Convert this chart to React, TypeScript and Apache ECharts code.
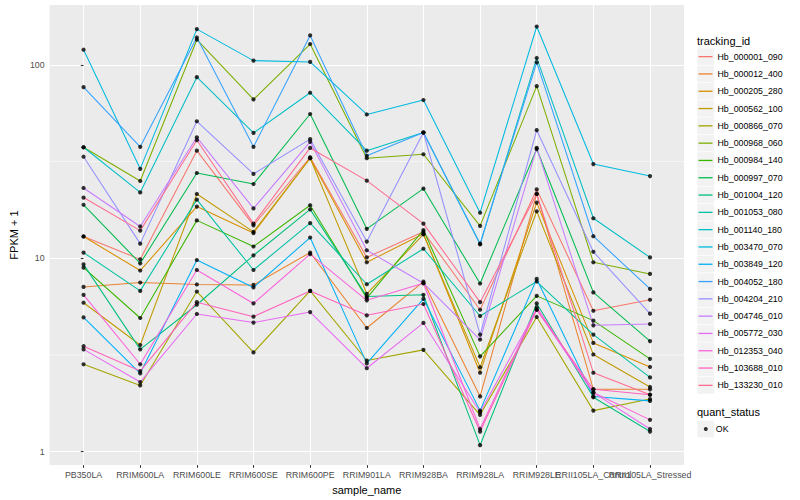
import React, { useEffect, useRef } from 'react';
import * as echarts from 'echarts';

const categories = ['PB350LA', 'RRIM600LA', 'RRIM600LE', 'RRIM600SE', 'RRIM600PE', 'RRIM901LA', 'RRIM928BA', 'RRIM928LA', 'RRIM928LE', 'RRII105LA_Control', 'RRII105LA_Stressed'];

const trackingIds = ['Hb_000001_090', 'Hb_000012_400', 'Hb_000205_280', 'Hb_000562_100', 'Hb_000866_070', 'Hb_000968_060', 'Hb_000984_140', 'Hb_000997_070', 'Hb_001004_120', 'Hb_001053_080', 'Hb_001140_180', 'Hb_003470_070', 'Hb_003849_120', 'Hb_004052_180', 'Hb_004204_210', 'Hb_004746_010', 'Hb_005772_030', 'Hb_012353_040', 'Hb_103688_010', 'Hb_133230_010'];

const hueColors = ['#F8766D', '#EA8331', '#D89000', '#C09B00', '#A3A500', '#7CAE00', '#39B600', '#00BB4E', '#00BF7D', '#00C1A3', '#00BFC4', '#00BAE0', '#00B0F6', '#35A2FF', '#9590FF', '#C77CFF', '#E76BF3', '#FA62DB', '#FF62BC', '#FF6C91'];

// FPKM + 1 per sample, in category order
const hb000001_090 = [12.96, 9.87, 36.0, 14.8, 33.3, 10.1, 13.7, 5.42, 22.7, 5.35, 6.10];
const hb000012_400 = [7.11, 7.49, 7.32, 7.28, 10.7, 4.36, 7.58, 1.93, 21.5, 2.10, 2.10];
const hb000205_280 = [12.96, 8.64, 18.5, 13.5, 32.9, 9.53, 13.4, 2.56, 19.4, 3.65, 2.74];
const hb000562_100 = [5.89, 3.56, 21.5, 13.7, 32.9, 6.55, 13.3, 2.73, 17.5, 3.18, 2.16];
const hb000866_070 = [2.83, 2.20, 6.73, 3.26, 6.78, 2.96, 3.36, 1.55, 4.97, 1.63, 1.87];
const hb000968_060 = [37.5, 25.1, 134.9, 66.3, 128.2, 32.9, 34.5, 14.7, 77.6, 9.53, 8.30];
const hb000984_140 = [8.95, 4.91, 15.7, 11.5, 18.8, 6.22, 14.0, 3.11, 6.39, 4.76, 3.02];
const hb000997_070 = [18.9, 9.41, 27.6, 24.2, 55.7, 14.2, 22.9, 7.40, 36.7, 6.66, 3.73];
const hb001004_120 = [9.30, 3.38, 5.75, 10.35, 17.9, 6.35, 6.47, 1.08, 5.84, 1.91, 1.27];
const hb001053_080 = [10.7, 6.78, 20.1, 8.70, 15.2, 7.34, 11.2, 5.03, 7.58, 4.03, 2.42];
const hb001140_180 = [37.5, 21.9, 86.4, 44.5, 71.8, 36.0, 44.7, 11.8, 108.6, 16.1, 10.1];
const hb003470_070 = [119.8, 29.0, 153.1, 105.2, 103.6, 55.4, 65.8, 17.2, 157.9, 30.7, 26.6];
const hb003849_120 = [4.95, 2.54, 9.79, 7.06, 12.8, 2.86, 6.17, 1.63, 7.82, 1.93, 1.83];
const hb004052_180 = [76.7, 37.7, 138.6, 37.7, 142.0, 33.9, 44.7, 11.9, 103.1, 13.0, 6.95];
const hb004204_210 = [33.5, 11.9, 51.1, 27.3, 41.3, 12.2, 44.7, 4.03, 45.96, 10.8, 5.17];
const hb004746_010 = [23.1, 14.6, 42.2, 18.1, 40.0, 11.0, 7.43, 3.80, 37.2, 4.50, 4.57];
const hb005772_030 = [3.38, 2.29, 5.15, 4.65, 5.27, 2.70, 4.63, 1.60, 5.42, 2.02, 1.31];
const hb012353_040 = [6.47, 2.83, 8.70, 5.84, 10.5, 6.06, 7.43, 1.31, 5.57, 2.02, 1.46];
const hb103688_010 = [3.51, 2.61, 5.93, 4.99, 6.78, 5.07, 5.80, 1.27, 5.42, 2.10, 1.97];
const hb133230_010 = [20.6, 13.9, 40.8, 15.1, 37.2, 25.2, 15.1, 5.93, 21.5, 2.56, 1.97];

const seriesValues = [hb000001_090, hb000012_400, hb000205_280, hb000562_100, hb000866_070, hb000968_060, hb000984_140, hb000997_070, hb001004_120, hb001053_080, hb001140_180, hb003470_070, hb003849_120, hb004052_180, hb004204_210, hb004746_010, hb005772_030, hb012353_040, hb103688_010, hb133230_010];

const yTicks = [1, 10, 100];
const yMinorBreaks = [3.1623, 31.623];
const xTicks = categories.map((_, i) => i);
// labels split over two axes so that the overlapping pair both stay visible
const xLabelsMain = xTicks.filter((i) => i !== 9);
const xLabelsAlt = [9];

const FONT = '"Liberation Sans", Arial, Helvetica, sans-serif';
const Y_MIN = 0.852;
const Y_MAX = 204;
const X_MIN = -0.6;
const X_MAX = 10.6;

export default function App() {
  const ref = useRef<HTMLDivElement>(null);
  useEffect(() => {
    if (!ref.current) return;
    const chart = echarts.init(ref.current, null, { renderer: 'svg' });

    const lineSeries = trackingIds.map((id, k) => ({
      type: 'line',
      name: id,
      data: seriesValues[k].map((v, i) => [i, v]),
      symbol: 'none',
      color: hueColors[k],
      lineStyle: { width: 1.05, color: hueColors[k] },
      z: 3,
      silent: true,
    }));

    const minorGridSeries = yMinorBreaks.map((b, k) => ({
      type: 'line',
      name: 'minor-grid-' + k,
      data: [[X_MIN, b], [X_MAX, b]],
      symbol: 'none',
      color: '#FFFFFF',
      lineStyle: { width: 0.55, color: '#FFFFFF' },
      z: 1,
      silent: true,
    }));

    const allPoints: number[][] = [];
    seriesValues.forEach((vals) => vals.forEach((v, i) => allPoints.push([i, v])));

    const keyRects: any[] = [];
    trackingIds.forEach((_, k) => {
      keyRects.push({
        type: 'rect',
        shape: { x: 697, y: 48 + k * 17.3, width: 17.3, height: 17.3 },
        style: { fill: '#F2F2F2', stroke: '#FFFFFF', lineWidth: 0.6 },
        z: -1,
      });
    });
    keyRects.push({
      type: 'rect',
      shape: { x: 697, y: 420.4, width: 17.3, height: 17.3 },
      style: { fill: '#F2F2F2', stroke: '#FFFFFF', lineWidth: 0.6 },
      z: -1,
    });

    const xLabelStyle = {
      formatter: (v: number) => categories[Math.round(v)] ?? '',
      color: '#4D4D4D',
      fontSize: 8.8,
      fontFamily: FONT,
      margin: 5,
      hideOverlap: false,
      showMinLabel: true,
      showMaxLabel: true,
    };

    const option: any = {
      animation: false,
      backgroundColor: '#FFFFFF',
      textStyle: { fontFamily: FONT },
      grid: {
        left: 40,
        right: 116,
        top: 5,
        bottom: 32,
        show: true,
        backgroundColor: '#EBEBEB',
        borderWidth: 0,
      },
      xAxis: [
        {
          type: 'value',
          min: X_MIN,
          max: X_MAX,
          name: 'sample_name',
          nameLocation: 'middle',
          nameGap: 15,
          nameTextStyle: { fontSize: 11, color: '#000000', fontFamily: FONT },
          axisLine: { show: false },
          axisTick: { show: true, customValues: xTicks, length: 2.75, lineStyle: { color: '#333333', width: 1.07 } },
          axisLabel: { ...xLabelStyle, customValues: xLabelsMain },
          splitLine: { show: true, lineStyle: { color: '#FFFFFF', width: 1.07 } },
        },
        {
          type: 'value',
          min: X_MIN,
          max: X_MAX,
          position: 'bottom',
          offset: 0,
          axisLine: { show: false },
          axisTick: { show: false, customValues: xLabelsAlt },
          axisLabel: { ...xLabelStyle, customValues: xLabelsAlt },
          splitLine: { show: false },
        },
      ],
      yAxis: {
        type: 'log',
        logBase: 10,
        min: Y_MIN,
        max: Y_MAX,
        name: 'FPKM + 1',
        nameLocation: 'middle',
        nameGap: 22,
        nameTextStyle: { fontSize: 11, color: '#000000', fontFamily: FONT },
        axisLine: { show: false },
        axisTick: { show: true, customValues: yTicks, length: 2.75, lineStyle: { color: '#333333', width: 1.07 } },
        axisLabel: {
          customValues: yTicks,
          formatter: (v: number) => String(Math.round(v)),
          color: '#4D4D4D',
          fontSize: 8.8,
          fontFamily: FONT,
          margin: 5,
          showMinLabel: true,
          showMaxLabel: true,
        },
        splitLine: { show: true, lineStyle: { color: '#FFFFFF', width: 1.07 } },
      },
      legend: [
        {
          orient: 'vertical',
          left: 698.5,
          top: 48,
          padding: 0,
          itemGap: 0,
          itemWidth: 14,
          itemHeight: 1.3,
          icon: 'rect',
          selectedMode: false,
          data: trackingIds,
          textStyle: { fontSize: 8.8, color: '#000000', lineHeight: 17.3, fontFamily: FONT },
        },
        {
          orient: 'vertical',
          left: 703.8,
          top: 420.4,
          padding: 0,
          itemGap: 0,
          itemWidth: 4,
          itemHeight: 4,
          icon: 'circle',
          selectedMode: false,
          data: ['OK'],
          textStyle: { fontSize: 8.8, color: '#000000', lineHeight: 17.3, fontFamily: FONT, padding: [0, 0, 0, 3] },
        },
      ],
      graphic: [
        ...keyRects,
        {
          type: 'text',
          x: 697,
          y: 40.5,
          style: { text: 'tracking_id', fontSize: 11, fill: '#000000', fontFamily: FONT, textVerticalAlign: 'middle' },
        },
        {
          type: 'text',
          x: 697,
          y: 412.3,
          style: { text: 'quant_status', fontSize: 11, fill: '#000000', fontFamily: FONT, textVerticalAlign: 'middle' },
        },
      ],
      series: [
        ...minorGridSeries,
        ...lineSeries,
        {
          type: 'scatter',
          name: 'OK',
          data: allPoints,
          symbol: 'circle',
          symbolSize: 4.2,
          itemStyle: { color: '#000000' },
          z: 4,
          silent: true,
        },
      ],
    };

    chart.setOption(option);
    return () => chart.dispose();
  }, []);

  return <div ref={ref} style={{ position: 'fixed', left: 0, top: 0, width: 800, height: 500 }} />;
}
